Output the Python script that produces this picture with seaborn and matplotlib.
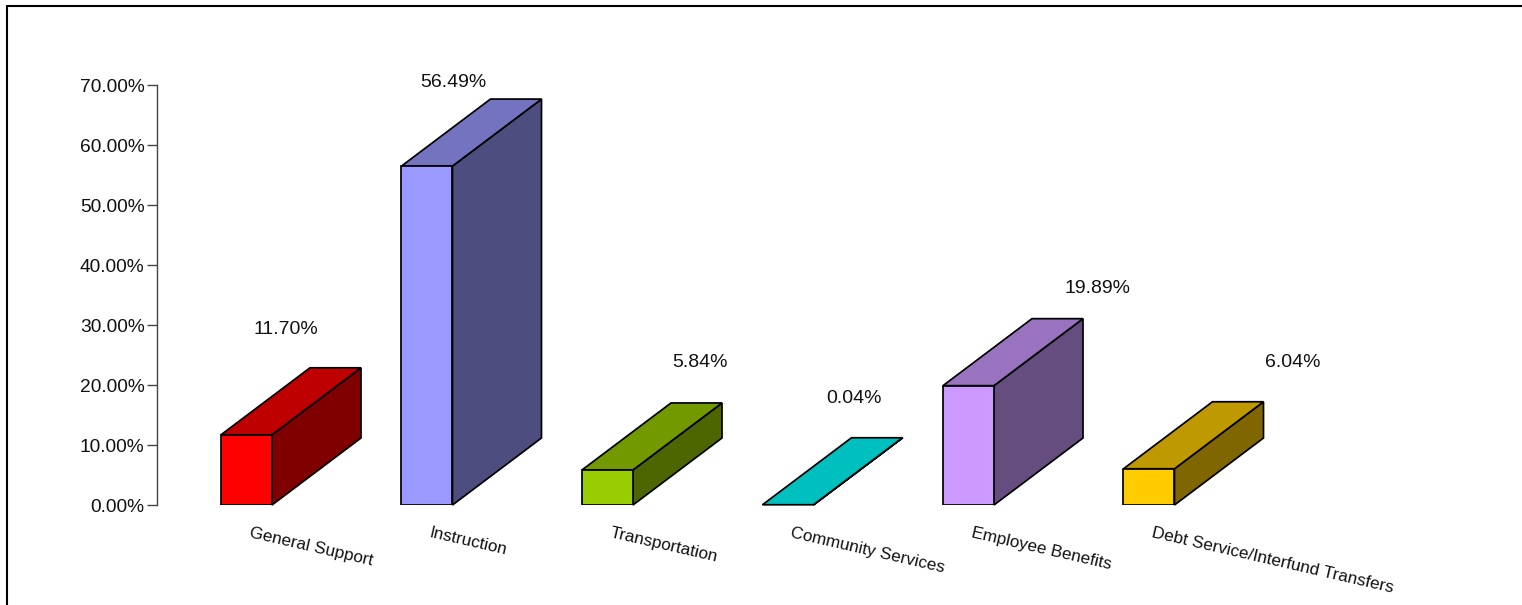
import matplotlib
matplotlib.use("Agg")
import matplotlib.pyplot as plt
from matplotlib.lines import Line2D
import pandas as pd
import seaborn as sns

# Budget share by function (percent of total)
categories = ["General Support", "Instruction", "Transportation",
              "Community Services", "Employee Benefits",
              "Debt Service/Interfund Transfers"]
shares = [11.70, 56.49, 5.84, 0.04, 19.89, 6.04]
base_colors = ["#FF0000", "#9999FF", "#99CC00", "#00FFFF", "#CC99FF", "#FFCC00"]
y_ticks = [0, 10, 20, 30, 40, 50, 60, 70]

# Value-label placement, in pixels from each bar's front top-left corner
label_shift_px = [(65, 101), (52, 79), (118, 103), (92, 102), (155, 93), (169, 102)]

W, H, DPI = 1522, 605, 100
sns.set_style("white")
plt.rcParams["font.family"] = ["Liberation Sans", "DejaVu Sans"]

fig = plt.figure(figsize=(W / DPI, H / DPI), dpi=DPI)
fig.patch.set_facecolor("white")

# axes geometry (pixels)
ax_left_px, ax_bottom_px, ax_w_px, ax_h_px = 157, 100, W - 157, 420
ax = fig.add_axes([ax_left_px / W, ax_bottom_px / H, ax_w_px / W, ax_h_px / H])

px_per_cat = 180.5
px_per_pct = ax_h_px / 70.0
bar_w = 51 / px_per_cat
depth_x = 89 / px_per_cat
depth_y = 67 / px_per_pct
edge_lw = 1.25

df = pd.DataFrame({"category": categories, "share": shares})


def shade(hex_color, f):
    r, g, b = matplotlib.colors.to_rgb(hex_color)
    return (r * f, g * f, b * f)


sns.barplot(data=df, x="category", y="share", hue="category",
            palette=base_colors, legend=False, width=bar_w,
            edgecolor="black", linewidth=edge_lw, saturation=1, ax=ax, zorder=3)

# extrude each bar: top face and side face
for i, patch in enumerate(ax.patches[:len(categories)]):
    xl = patch.get_x()
    xr = xl + patch.get_width()
    v = patch.get_height()
    top = [(xl, v), (xl + depth_x, v + depth_y), (xr + depth_x, v + depth_y), (xr, v)]
    side = [(xr, 0), (xr + depth_x, depth_y), (xr + depth_x, v + depth_y), (xr, v)]
    ax.fill(*zip(*side), facecolor=shade(base_colors[i], 0.5), edgecolor="black",
            linewidth=edge_lw, zorder=2, clip_on=False, joinstyle="miter")
    ax.fill(*zip(*top), facecolor=shade(base_colors[i], 0.75), edgecolor="black",
            linewidth=edge_lw, zorder=2, clip_on=False, joinstyle="miter")
    dx, dy = label_shift_px[i]
    ax.annotate(f"{shares[i]:.2f}%", xy=(xl, v), xytext=(dx, dy),
                textcoords="offset pixels", ha="center", va="baseline",
                fontsize=14, color="#111111", annotation_clip=False)
    ax.text(xl + 30 / px_per_cat, -20 / px_per_pct, categories[i],
            rotation=-13, rotation_mode="anchor", ha="left", va="top",
            fontsize=12.3, color="#111111", clip_on=False)

ax.set_xlim(-0.4958, -0.4958 + ax_w_px / px_per_cat)
ax.set_ylim(0, 70)
ax.set_xticks([])
ax.set_yticks(y_ticks)
ax.set_yticklabels([f"{t:.2f}%" for t in y_ticks], fontsize=13.8, color="#111111")
ax.set_xlabel("")
ax.set_ylabel("")
for s in ["top", "right", "bottom"]:
    ax.spines[s].set_visible(False)
ax.spines["left"].set_color("#444444")
ax.spines["left"].set_linewidth(1.0)
ax.tick_params(axis="y", direction="out", length=7, width=1.0, color="#444444", pad=2, left=True)
ax.set_facecolor("none")

# outer frame (left and top edges)
fx = 7 / W
fy = 1 - 5.5 / H
fig.add_artist(Line2D([fx, fx], [0, fy], color="black", linewidth=1.5, transform=fig.transFigure))
fig.add_artist(Line2D([fx, 1], [fy, fy], color="black", linewidth=1.5, transform=fig.transFigure))

fig.savefig("out.png", dpi=DPI, facecolor="white")
